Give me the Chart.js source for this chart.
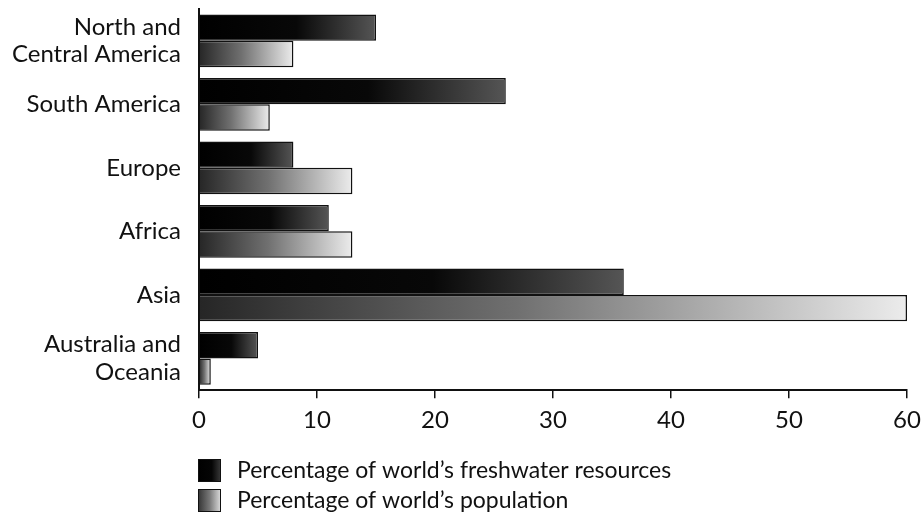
<!DOCTYPE html>
<html>
<head>
<meta charset="utf-8">
<script src="https://cdn.jsdelivr.net/npm/chart.js@4.4.1/dist/chart.umd.min.js"></script>
<style>
  html, body { margin: 0; padding: 0; background: #fff; }
  #wrap { width: 921px; height: 519px; position: relative; }
</style>
</head>
<body>
<div id="wrap"><canvas id="c" width="921" height="519"></canvas></div>
<script>
const categories = [
  ['North and', 'Central America'],
  'South America',
  'Europe',
  'Africa',
  'Asia',
  ['Australia and', 'Oceania']
];
const freshwater = [15, 26, 8, 11, 36, 5];
const population = [8, 6, 13, 13, 60, 1];
const seriesLabels = ['Percentage of world\u2019s freshwater resources', 'Percentage of world\u2019s population'];
const xTicks = [0, 10, 20, 30, 40, 50, 60];

const FONT = 'Lato, "Noto Sans", sans-serif';

function barGradient(ctx, kind) {
  const chart = ctx.chart;
  const xs = chart.scales.x;
  const fallback = kind === 0 ? '#111' : '#888';
  if (!xs || ctx.type !== 'data') return fallback;
  const v = ctx.parsed ? ctx.parsed.x : ctx.raw;
  const x0 = xs.getPixelForValue(0);
  const x1 = xs.getPixelForValue(v);
  if (!isFinite(x0) || !isFinite(x1)) return fallback;
  const g = chart.ctx.createLinearGradient(x0, 0, Math.max(x1, x0 + 1), 0);
  if (kind === 0) {
    g.addColorStop(0, '#000');
    g.addColorStop(0.55, '#080808');
    g.addColorStop(1, '#555');
  } else {
    g.addColorStop(0, '#262626');
    g.addColorStop(0.45, '#707070');
    g.addColorStop(1, '#ececec');
  }
  return g;
}

const legendPlugin = {
  id: 'customLegend',
  afterDraw(chart) {
    const c = chart.ctx;
    const items = chart.data.datasets;
    c.save();
    items.forEach((ds, i) => {
      const bx = 198, by = 459 + i * 30, bw = 23, bh = 23;
      let fill = c.createLinearGradient(bx, 0, bx + bw, 0);
      if (i === 0) {
        fill.addColorStop(0, '#000'); fill.addColorStop(0.6, '#050505'); fill.addColorStop(1, '#3a3a3a');
      } else {
        fill.addColorStop(0, '#333'); fill.addColorStop(0.5, '#777'); fill.addColorStop(1, '#ddd');
      }
      c.fillStyle = fill;
      c.fillRect(bx, by, bw, bh);
      c.strokeStyle = '#111';
      c.lineWidth = 1;
      c.strokeRect(bx + 0.5, by + 0.5, bw - 1, bh - 1);
      c.fillStyle = '#111';
      c.font = '23px ' + FONT;
      c.textBaseline = 'middle';
      c.textAlign = 'left';
      c.fillText(ds.label, 237, by + bh / 2);
    });
    c.restore();
  }
};

function zeroPad(scale) {
  scale.paddingTop = 0; scale.paddingBottom = 0;
  scale.paddingLeft = 0; scale.paddingRight = 0;
}

new Chart(document.getElementById('c'), {
  type: 'bar',
  data: {
    labels: categories,
    datasets: [
      {
        label: seriesLabels[0],
        data: freshwater,
        backgroundColor: (ctx) => barGradient(ctx, 0),
        borderColor: '#111',
        borderWidth: 1.5
      },
      {
        label: seriesLabels[1],
        data: population,
        backgroundColor: (ctx) => barGradient(ctx, 1),
        borderColor: '#111',
        borderWidth: 1.5
      }
    ]
  },
  options: {
    indexAxis: 'y',
    responsive: false,
    animation: false,
    devicePixelRatio: 1,
    layout: { padding: { top: 9, right: 14, bottom: 76, left: 8 } },
    datasets: { bar: { barPercentage: 1.0, categoryPercentage: 0.83 } },
    plugins: { legend: { display: false }, tooltip: { enabled: false } },
    scales: {
      x: {
        type: 'linear',
        min: 0, max: 60,
        afterBuildTicks: (s) => { s.ticks = xTicks.map(v => ({ value: v })); },
        afterFit: zeroPad,
        grid: { drawOnChartArea: false, drawTicks: true, tickLength: 8, color: '#111', lineWidth: 1.5 },
        border: { display: true, color: '#111', width: 2 },
        ticks: { color: '#111', font: { family: FONT, size: 24 }, padding: 8, maxRotation: 0, autoSkip: false }
      },
      y: {
        afterFit: (s) => { zeroPad(s); s.width = 191; },
        grid: { display: false },
        border: { display: true, color: '#111', width: 2 },
        ticks: { color: '#111', font: { family: FONT, size: 24, lineHeight: 1.15 }, padding: 10, autoSkip: false }
      }
    }
  },
  plugins: [legendPlugin]
});
</script>
</body>
</html>
